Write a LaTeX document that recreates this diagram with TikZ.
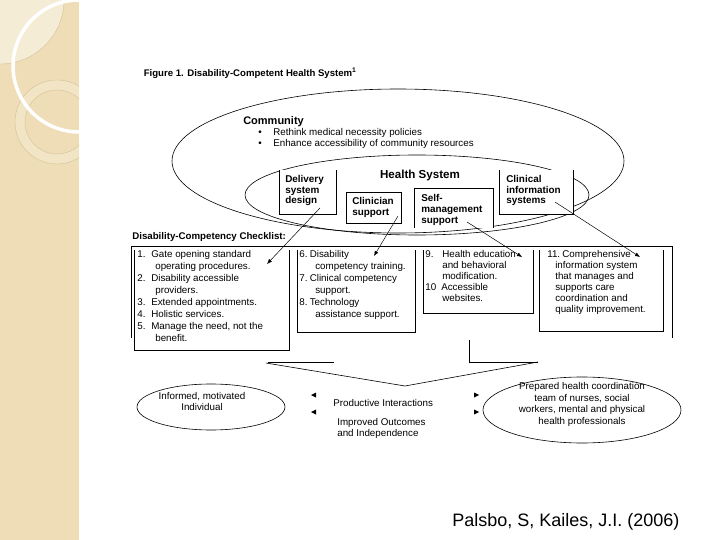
\documentclass[tikz,border=0pt]{standalone}
\usepackage{fontspec}
\setmainfont{Liberation Sans}
\usetikzlibrary{arrows.meta}

\definecolor{stripbeige}{RGB}{238,221,182}
\definecolor{striplight}{RGB}{245,236,214}
\definecolor{stripring}{RGB}{242,229,198}
\definecolor{stripline}{RGB}{212,193,148}

\begin{document}
\begin{tikzpicture}[x=1pt, y=-1pt, line width=0.6pt,
    txt/.style={inner sep=0pt, anchor=base west, align=left, font=\fontsize{9.8}{12}\selectfont},
    txtnarrow/.style={txt, font=\fontsize{9.8}{11}\selectfont},
    boxlbl/.style={inner sep=0pt, anchor=base west, align=left, font=\bfseries\fontsize{9.9}{10.5}\selectfont},
    headlbl/.style={inner sep=0pt, anchor=base west, font=\bfseries\fontsize{11}{13}\selectfont},
    tip/.style={-{Latex[length=5pt, width=4pt]}, line width=0.5pt}]

%% Slide and its strip
\fill[white] (0,0) rectangle (720,540);
\useasboundingbox (0,0) rectangle (720,540);
\begin{scope}
    \clip (0,0) rectangle (79,540);
    \fill[stripbeige] (0,0) rectangle (79,540);
    \fill[striplight] (0,0) circle[radius=64];
    \draw[stripline, line width=0.4pt] (0,0) circle[radius=64];
    \fill[stripring, even odd rule] (57,122) circle[radius=42] (57,122) circle[radius=32];
    \draw[stripline, line width=0.4pt] (57,122) circle[radius=42] (57,122) circle[radius=32];
    \draw[white, line width=3.5pt] (79,66) circle[radius=66];
\end{scope}

%% Title
\node [inner sep=0pt, anchor=base west, font=\bfseries\fontsize{9.6}{12}\selectfont] (TITLE) at (143.5,76.5)
    {Figure 1. Disability-Competent Health System\textsuperscript{1}};

%% Define the nodes
% tl = top left (box)
% br = bottom right (box)
% a = start of arrow, t = arrow tip
% multi-line labels sit on the baseline of their last line

\coordinate (DSDtl) at (279,170);
\coordinate (DSDbr) at (336,214);
\coordinate (CSUtl) at (346,192);
\coordinate (CSUbr) at (401,223);
\coordinate (SMStl) at (414,188);
\coordinate (SMSbr) at (493,228);
\coordinate (CIStl) at (499,170);
\coordinate (CISbr) at (573,214);

\coordinate (CKtl) at (131,246);
\coordinate (CKbr) at (672,338);
\coordinate (C1tl) at (134,250);
\coordinate (C1br) at (289,350);
\coordinate (C2tl) at (297,250);
\coordinate (C2br) at (415,332);
\coordinate (C3tl) at (423,250);
\coordinate (C3br) at (533,313);
\coordinate (C4tl) at (539,250);
\coordinate (C4br) at (663,331);

\coordinate (DSDa) at (320,208);
\coordinate (C1t) at (267,264);
\coordinate (CSUa) at (398,216);
\coordinate (C2t) at (374,256);
\coordinate (SMSa) at (467,222);
\coordinate (C3t) at (522,257);
\coordinate (CISa) at (555,202);
\coordinate (C4t) at (640,257);

%% Community and health system
\draw (398,161) ellipse [x radius=226, y radius=72];
\draw (417,195) ellipse [x radius=172, y radius=40];

\node [headlbl] (COMM) at (243,125) {Community};
\node [txt, anchor=base] (BUL1) at (260,135.5) {•};
\node [txt] (POL1) at (273,135.5) {Rethink medical necessity policies};
\node [txt, anchor=base] (BUL2) at (260,146.5) {•};
\node [txt] (POL2) at (273,146.5) {Enhance accessibility of community resources};

\fill[white] (DSDtl) rectangle (DSDbr);
\draw (DSDtl) |- (DSDbr) -- (DSDbr |- DSDtl);
\node [boxlbl] (DSD) at (285,204) {Delivery\\system\\design};

\draw[fill=white] (CSUtl) rectangle (CSUbr);
\node [boxlbl] (CSU) at (352,215.5) {Clinician\\support};

\fill[white] (SMStl) rectangle (SMSbr);
\draw (SMStl |- SMSbr) -- (SMStl) -| (SMSbr);
\node [boxlbl, font=\bfseries\fontsize{9.9}{11}\selectfont] (SMS) at (421,223.5) {Self-\\management\\support};

\fill[white] (CIStl) rectangle (CISbr);
\draw (CIStl) |- (CISbr) -- (CISbr |- CIStl);
\node [boxlbl] (CIS) at (506,204) {Clinical\\information\\systems};

\node [headlbl, anchor=base, font=\bfseries\fontsize{11.6}{13}\selectfont] (HSYS) at (420,179) {Health System};

%% Checklist
\node [inner sep=0pt, anchor=base west, font=\bfseries\fontsize{9.7}{12}\selectfont] (CKHEAD) at (132,239.5)
    {Disability-Competency Checklist:};

\draw (CKtl |- CKbr) -- (CKtl) -| (CKbr);
\draw (C1tl) |- (C1br) -- (C1br |- C1tl);
\draw (C2tl) |- (C2br) -- (C2br |- C2tl);
\draw (C3tl) |- (C3br) -- (C3br |- C3tl);
\draw (C4tl) |- (C4br) -- (C4br |- C4tl);

\node [txt] (CK1) at (137,341.5) {\makebox[14pt][l]{1.}Gate opening standard\\
    \hspace*{18pt}operating procedures.\\
    \makebox[14pt][l]{2.}Disability accessible\\
    \hspace*{18pt}providers.\\
    \makebox[14pt][l]{3.}Extended appointments.\\
    \makebox[14pt][l]{4.}Holistic services.\\
    \makebox[14pt][l]{5.}Manage the need, not the\\
    \hspace*{18pt}benefit.};
\node [txt] (CK2) at (299,317.5) {\makebox[10.5pt][l]{6.}Disability\\
    \hspace*{16pt}competency training.\\
    \makebox[10.5pt][l]{7.}Clinical competency\\
    \hspace*{16pt}support.\\
    \makebox[10.5pt][l]{8.}Technology\\
    \hspace*{16pt}assistance support.};
\node [txtnarrow] (CK3) at (425,301.5) {\makebox[17pt][l]{9.}Health education\\
    \hspace*{17pt}and behavioral\\
    \hspace*{17pt}modification.\\
    \makebox[16pt][l]{10}Accessible\\
    \hspace*{17pt}websites.};
\node [txtnarrow] (CK4) at (547,312.5) {\makebox[15pt][l]{11.}Comprehensive\\
    \hspace*{8pt}information system\\
    \hspace*{8pt}that manages and\\
    \hspace*{8pt}supports care\\
    \hspace*{8pt}coordination and\\
    \hspace*{8pt}quality improvement.};

%% Arrows to the checklist
\draw [tip] (DSDa) -- (C1t);
\draw [tip] (CSUa) -- (C2t);
\draw [tip] (SMSa) -- (C3t);
\draw [tip] (CISa) -- (C4t);

%% Big arrow down
\coordinate (BRb) at (469,340);
\coordinate (BRe) at (538,362);
\coordinate (VLb) at (268,362);
\coordinate (VLe) at (334,362);
\coordinate (Vl) at (266,363);
\coordinate (Vm) at (405,386);
\draw (BRb) |- (BRe);
\draw (VLb) -- (VLe);
\draw (Vl) -- (Vm) -- (BRe);

%% Outcomes
\draw (211,407) ellipse [x radius=74, y radius=23];
\draw (582,410) ellipse [x radius=99, y radius=33];

\node [txtnarrow, anchor=center, align=center] (PAT) at (202,401) {Informed, motivated\\Individual};
\node [txt] (PROD) at (333,406.5) {Productive Interactions};
\node [txtnarrow] (OUTC) at (337,436) {Improved Outcomes\\and Independence};
\node [inner sep=0pt, anchor=center, align=center, font=\fontsize{9.8}{11.7}\selectfont] (TEAM) at (582,404.5)
    {Prepared health coordination\\team of nurses, social\\workers, mental and physical\\health professionals};

\foreach \y in {395,412} {
    \fill (311,\y) -- (316,\y-2.5) -- (316,\y+2.5) -- cycle;
    \fill (479,\y) -- (474,\y-2.5) -- (474,\y+2.5) -- cycle;
}

%% Source
\node [inner sep=0pt, anchor=base west, font=\fontsize{18}{22}\selectfont] (SRC) at (452,526.5)
    {Palsbo, S, Kailes, J.I. (2006)};

\end{tikzpicture}
\end{document}
